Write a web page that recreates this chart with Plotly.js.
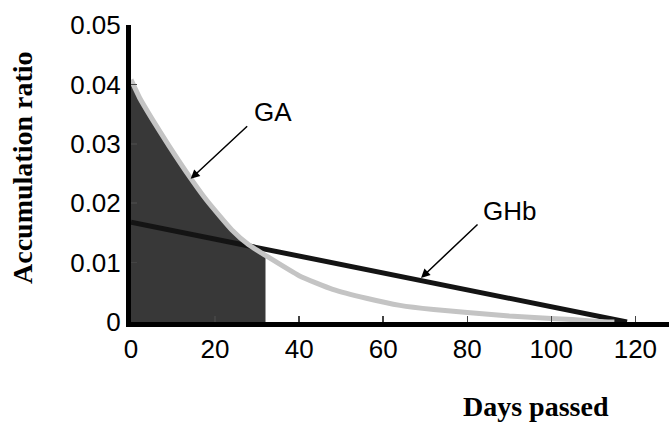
<!DOCTYPE html>
<html>
<head>
<meta charset="utf-8">
<script src="https://cdn.plot.ly/plotly-3.0.1.min.js"></script>
<style>html,body{margin:0;padding:0;background:#fff;}#chart{width:669px;height:426px;}</style>
</head>
<body>
<div id="chart"></div>
<script>
// GA accumulation curve
const gaDays  = [0, 2, 5, 9, 14, 18, 24, 28, 32, 40, 48, 56, 64, 72, 80, 90, 100, 105, 111, 115];
const gaRatio = [0.0408, 0.0378, 0.0342, 0.0297, 0.0244, 0.0205, 0.0155, 0.0130, 0.0112, 0.0078, 0.0055, 0.0040, 0.0028, 0.0021, 0.0016, 0.0010, 0.0006, 0.0004, 0.0001, 0.0];
// GHb straight line
const ghbDays  = [0, 118];
const ghbRatio = [0.0168, 0.0];
// shaded region ends at this day
const shadeEnd = 32;
const xTicks = [0, 20, 40, 60, 80, 100, 120];
const yTicks = [0, 0.01, 0.02, 0.03, 0.04, 0.05];
const yTickText = ['0', '0.01', '0.02', '0.03', '0.04', '0.05'];

const fillX = [], fillY = [];
gaDays.forEach((d, i) => { if (d <= shadeEnd) { fillX.push(d); fillY.push(gaRatio[i]); } });

const traces = [
  {x: fillX, y: fillY, mode: 'lines', fill: 'tozeroy', fillcolor: '#383838',
   line: {width: 0, color: '#383838', shape: 'spline', smoothing: 0.5}, hoverinfo: 'skip', showlegend: false},
  {x: ghbDays, y: ghbRatio, mode: 'lines', line: {color: '#141414', width: 5}, showlegend: false},
  {x: gaDays, y: gaRatio, mode: 'lines', line: {color: '#c4c4c4', width: 5, shape: 'spline', smoothing: 0.5}, showlegend: false}
];

const tickFont = {size: 26, family: 'Liberation Sans, Arial, sans-serif', color: '#000'};
const layout = {
  width: 669, height: 426,
  margin: {l: 131, r: 0, t: 25, b: 104},
  paper_bgcolor: '#fff', plot_bgcolor: '#fff',
  font: {family: 'Liberation Sans, Arial, sans-serif', color: '#000'},
  xaxis: {range: [0, 128], tickvals: xTicks, ticks: 'inside', ticklen: 6, tickwidth: 1.5,
          showline: true, linewidth: 5, linecolor: '#000', showgrid: false, zeroline: false,
          tickfont: tickFont},
  yaxis: {range: [0, 0.05], tickvals: yTicks, ticktext: yTickText, ticks: 'inside', ticklen: 6, tickwidth: 1.5,
          showline: true, linewidth: 5, linecolor: '#000', showgrid: false, zeroline: false,
          tickfont: tickFont},
  annotations: [
    {text: 'GA', x: 273, y: 112, showarrow: false,
     font: {size: 26, family: 'Liberation Sans, Arial, sans-serif'}},
    {text: 'GHb', x: 509, y: 211, showarrow: false,
     font: {size: 26, family: 'Liberation Sans, Arial, sans-serif'}},
    {text: '', x: 14.2, y: 0.0241, xref: 'x', yref: 'y', showarrow: true, arrowhead: 2, arrowsize: 1.2,
     arrowwidth: 1.5, arrowcolor: '#000', ax: 58, ay: -54},
    {text: '', x: 69, y: 0.0074, xref: 'x', yref: 'y', showarrow: true, arrowhead: 2, arrowsize: 1.2,
     arrowwidth: 1.5, arrowcolor: '#000', ax: 58, ay: -55},
    {text: '<b>Accumulation ratio</b>', x: 23, y: 168, showarrow: false, textangle: -90,
     font: {size: 28, family: 'Liberation Serif, Times New Roman, serif'}},
    {text: '<b>Days passed</b>', x: 536, y: 406, showarrow: false,
     font: {size: 28, family: 'Liberation Serif, Times New Roman, serif'}}
  ]
};
// convert pixel-placed annotation positions to paper coords
const pw = 669 - layout.margin.l - layout.margin.r;
const ph = 426 - layout.margin.t - layout.margin.b;
layout.annotations.forEach(a => {
  if (a.xref !== 'x') {
    a.xref = 'paper'; a.yref = 'paper';
    a.xanchor = 'center'; a.yanchor = 'middle';
    a.x = (a.x - layout.margin.l) / pw;
    a.y = 1 - (a.y - layout.margin.t) / ph;
  }
});
Plotly.newPlot('chart', traces, layout, {displayModeBar: false, staticPlot: true});
</script>
</body>
</html>
